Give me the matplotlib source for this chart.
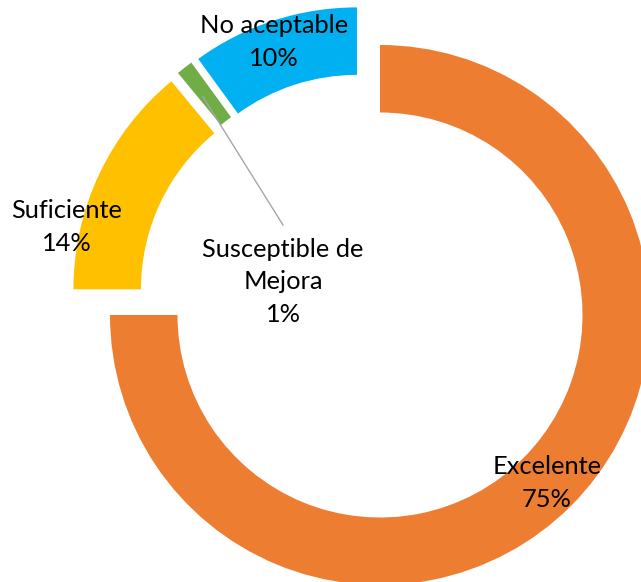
import matplotlib
matplotlib.use("Agg")
import matplotlib.pyplot as plt

# Rating distribution
categories = ["Excelente", "Suficiente", "Susceptible de\nMejora", "No aceptable"]
values = [75, 14, 1, 10]
colors = ["#ED7D31", "#FFC000", "#70AD47", "#00B0F0"]

plt.rcParams["font.family"] = ["Lato", "DejaVu Sans"]

fig = plt.figure(figsize=(6.41, 5.82), dpi=100)
ax = fig.add_axes([0, 0, 1, 1])

explode = [0.084] * len(values)
wedges, _ = ax.pie(values, colors=colors, startangle=90, counterclock=False,
                   radius=1.0, explode=explode,
                   wedgeprops=dict(width=0.25, edgecolor="none"))

ax.set_xlim(-1.348, 1.026)
ax.set_ylim(-1.048, 1.107)
ax.set_aspect("equal")
ax.axis("off")

fs = 18.3
labels = [f"{c}\n{v}%" for c, v in zip(categories, values)]
positions = [(0.678, -0.681), (-1.10, 0.267), (-0.30, 0.063), (-0.333, 0.952)]
for txt, (x, y) in zip(labels, positions):
    ax.text(x, y, txt, ha="center", va="center", fontsize=fs,
            linespacing=1.5, color="black")

# leader line from the small slice to its label
ax.plot([-0.300, -0.596], [0.274, 0.748], color="#A6A6A6", lw=1.0)

fig.savefig("out.png", dpi=100)
